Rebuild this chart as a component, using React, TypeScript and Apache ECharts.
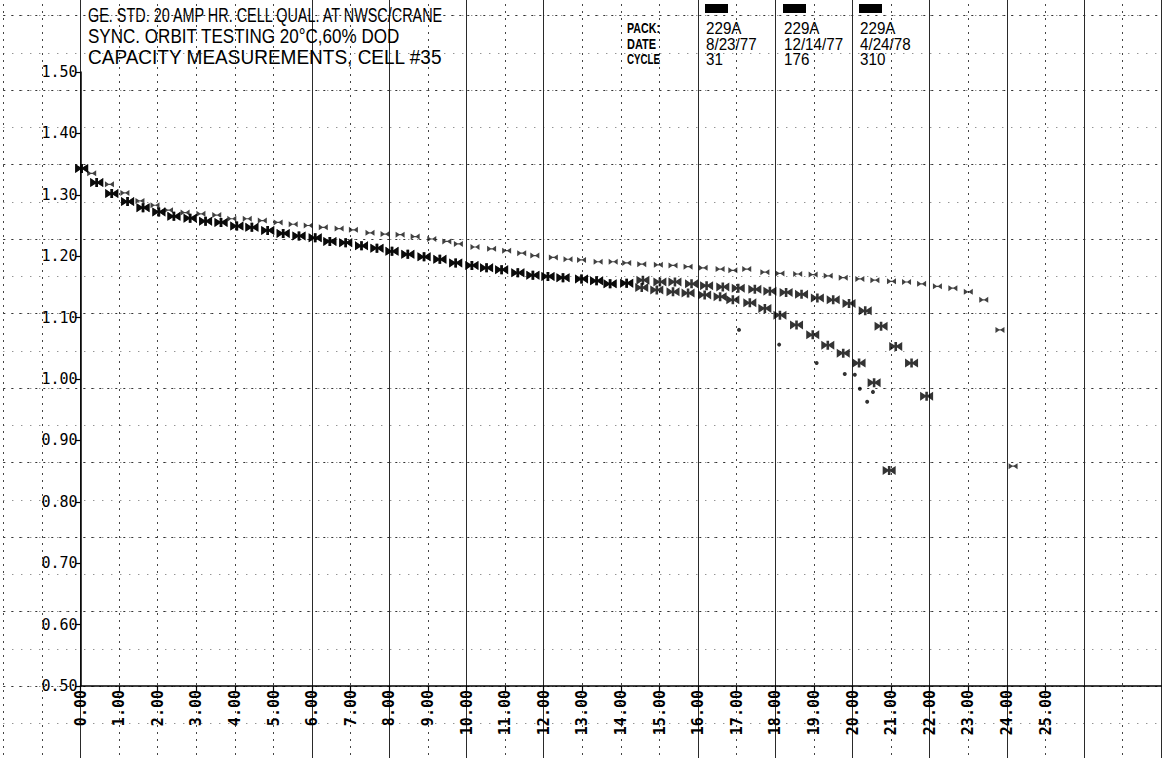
import React, { useEffect, useRef } from "react";
import * as echarts from "echarts";

// ---------- text content ----------
const titleLines = [
  "GE. STD. 20 AMP HR. CELL QUAL. AT NWSC/CRANE",
  "SYNC. ORBIT TESTING 20°C,60% DOD",
  "CAPACITY MEASUREMENTS, CELL #35",
];
const legendRowLabels = ["PACK:", "DATE", "CYCLE"];
const packs = ["229A", "229A", "229A"];
const dates = ["8/23/77", "12/14/77", "4/24/78"];
const cycles = ["31", "176", "310"];

// ---------- axes ----------
const xTickValues = [0, 1, 2, 3, 4, 5, 6, 7, 8, 9, 10, 11, 12, 13, 14, 15, 16, 17, 18, 19, 20, 21, 22, 23, 24, 25];
const yMin = 0.5;
const yMax = 1.5;
const yStep = 0.1;

// ---------- data ----------
// cycle 31 (light marks)
const cycle31X = [0.29, 0.75, 1.15, 1.54, 1.93, 2.28, 2.71, 3.12, 3.53, 3.92, 4.32, 4.71, 5.12, 5.51, 5.9, 6.29, 6.7, 7.07, 7.5, 7.89, 8.28, 8.67, 9.1, 9.49, 9.79, 10.22, 10.65, 11.04, 11.43, 11.77, 12.25, 12.63, 12.98, 13.41, 13.8, 14.15, 14.54, 14.97, 15.35, 15.74, 16.13, 16.57, 16.9, 17.26, 17.73, 18.12, 18.58, 18.98, 19.37, 19.76, 20.19, 20.58, 21.01, 21.4, 21.79, 22.2, 22.6, 23.0, 23.4, 23.82, 24.16];
const cycle31Y = [1.335, 1.317, 1.303, 1.29, 1.283, 1.275, 1.271, 1.269, 1.267, 1.261, 1.261, 1.258, 1.255, 1.252, 1.25, 1.247, 1.245, 1.243, 1.238, 1.236, 1.235, 1.232, 1.228, 1.224, 1.22, 1.215, 1.212, 1.209, 1.205, 1.201, 1.198, 1.195, 1.194, 1.191, 1.191, 1.189, 1.187, 1.186, 1.185, 1.183, 1.181, 1.179, 1.177, 1.179, 1.174, 1.172, 1.171, 1.17, 1.168, 1.165, 1.163, 1.161, 1.159, 1.158, 1.155, 1.151, 1.148, 1.142, 1.129, 1.08, 0.858];

// cycle 176 (bold marks, middle row)
const cycle176X = [0.03, 0.42, 0.81, 1.22, 1.62, 2.03, 2.42, 2.84, 3.24, 3.64, 4.05, 4.44, 4.85, 5.25, 5.66, 6.08, 6.46, 6.87, 7.28, 7.68, 8.07, 8.48, 8.9, 9.31, 9.72, 10.14, 10.52, 10.91, 11.33, 11.72, 12.11, 12.5, 12.98, 13.37, 13.72, 14.15, 14.57, 15.01, 15.4, 15.83, 16.22, 16.64, 17.04, 17.47, 17.86, 18.28, 18.68, 19.09, 19.5, 19.91, 20.33, 20.74, 21.12, 21.53, 21.92];
const cycle176Y = [1.343, 1.32, 1.302, 1.289, 1.279, 1.272, 1.265, 1.262, 1.257, 1.255, 1.249, 1.247, 1.242, 1.237, 1.233, 1.23, 1.224, 1.222, 1.217, 1.213, 1.208, 1.203, 1.199, 1.195, 1.189, 1.185, 1.181, 1.178, 1.173, 1.169, 1.167, 1.165, 1.163, 1.16, 1.155, 1.156, 1.161, 1.158, 1.158, 1.155, 1.152, 1.15, 1.148, 1.146, 1.143, 1.141, 1.138, 1.132, 1.129, 1.123, 1.111, 1.086, 1.053, 1.026, 0.972];

// cycle 310 (bold marks, lower row)
const cycle310X = [0.03, 0.42, 0.81, 1.22, 1.62, 2.03, 2.42, 2.84, 3.24, 3.64, 4.05, 4.44, 4.85, 5.25, 5.66, 6.08, 6.46, 6.87, 7.28, 7.68, 8.07, 8.48, 8.9, 9.31, 9.72, 10.14, 10.52, 10.91, 11.33, 11.72, 12.11, 12.5, 12.98, 13.37, 13.72, 14.15, 14.54, 14.93, 15.35, 15.74, 16.17, 16.57, 16.9, 17.34, 17.73, 18.12, 18.55, 18.97, 19.36, 19.76, 20.17, 20.56, 20.95];
const cycle310Y = [1.343, 1.32, 1.302, 1.289, 1.279, 1.272, 1.265, 1.262, 1.257, 1.255, 1.249, 1.247, 1.242, 1.237, 1.233, 1.23, 1.224, 1.222, 1.217, 1.213, 1.208, 1.203, 1.199, 1.195, 1.189, 1.185, 1.181, 1.178, 1.173, 1.169, 1.167, 1.165, 1.163, 1.16, 1.155, 1.156, 1.149, 1.145, 1.142, 1.14, 1.137, 1.134, 1.129, 1.124, 1.115, 1.104, 1.088, 1.072, 1.055, 1.042, 1.026, 0.994, 0.851];

// scattered small dots
const dotsX = [17.06, 18.1, 19.07, 19.8, 20.06, 20.19, 20.38, 20.53];
const dotsY = [1.08, 1.056, 1.026, 1.008, 1.007, 0.984, 0.963, 0.979];

// ---------- symbols ----------
const BOLD_SYMBOL = "path://M0,0 L4,3 L4,0 L6,0 L6,3 L10,0 L10,8 L6,5 L6,8 L4,8 L4,5 L0,8 Z";
const LIGHT_SYMBOL = "path://M0,0 L4,2 L6,2 L10,0 L10,5 L6,3 L4,3 L0,5 Z";

function zip(xs: number[], ys: number[]) {
  return xs.map((x, i) => [x, ys[i]]);
}

export default function App() {
  const ref = useRef<HTMLDivElement>(null);

  useEffect(() => {
    const el = ref.current;
    if (!el) return;
    const chart = echarts.init(el, null, { renderer: "svg" });

    // layout
    const X0 = 80.5;
    const UX = 38.6;
    const YB = 686;
    const YT = 72;
    const PY = 37.25;

    const ctx = document.createElement("canvas").getContext("2d");
    const measure = (text: string, size: number, weight = "normal") => {
      if (!ctx) return 1;
      ctx.font = `${weight} ${size}px "Liberation Sans"`;
      return ctx.measureText(text).width || 1;
    };

    const titleSpec = [
      { y: 15, size: 20, w: 357 },
      { y: 36, size: 20, w: 312 },
      { y: 57, size: 21, w: 355 },
    ];
    const titleEls = titleLines.map((t, i) => ({
      type: "text",
      x: 88,
      y: titleSpec[i].y,
      scaleX: titleSpec[i].w / measure(t, titleSpec[i].size),
      z: 10,
      style: {
        text: t,
        fontFamily: "Liberation Sans",
        fontSize: titleSpec[i].size,
        fill: "#000",
        align: "left",
        verticalAlign: "middle",
        textAlign: "left",
        textVerticalAlign: "middle",
      },
    }));

    const rowY = [28, 44, 59];
    const colX = [706, 784, 860];
    const labelW = [33, 29, 33];
    const legendEls: any[] = [];
    legendRowLabels.forEach((t, i) => {
      legendEls.push({
        type: "text",
        x: 627,
        y: rowY[i],
        scaleX: labelW[i] / measure(t, 15, "bold"),
        z: 10,
        style: { text: t, fontFamily: "Liberation Sans", fontSize: 15, fontWeight: "bold", fill: "#000", align: "left", verticalAlign: "middle", textAlign: "left", textVerticalAlign: "middle" },
      });
    });
    const cols = [packs, dates, cycles];
    colX.forEach((cx, c) => {
      legendEls.push({ type: "rect", z: 10, shape: { x: cx - 1, y: 4, width: 23, height: 9 }, style: { fill: "#000" } });
      cols.forEach((arr, r) => {
        legendEls.push({
          type: "text",
          x: cx,
          y: rowY[r],
          scaleX: 0.95,
          z: 10,
          style: { text: arr[c], fontFamily: "Liberation Sans", fontSize: 16, fill: "#000", align: "left", verticalAlign: "middle", textAlign: "left", textVerticalAlign: "middle" },
        });
      });
    });

    const T = "rgba(0,0,0,0)";
    const D = "#2a2a2a";
    // major vertical lines at -2,0,2,...,28
    const majorColors = [T, D, T, T, D, D, D, D, T, D, D, D, D, D, D, D];

    const option: any = {
      animation: false,
      backgroundColor: "#fff",
      grid: [
        { left: X0, top: YT, width: UX * 28, height: YB - YT, outerBoundsMode: "none" },
        { left: X0 - 2 * UX, top: YB - 20 * PY, width: 30 * UX, height: 22 * PY, outerBoundsMode: "none" },
      ],
      xAxis: [
        {
          gridIndex: 0,
          type: "value",
          min: 0,
          max: 28,
          position: "bottom",
          axisLine: { show: true, onZero: false, lineStyle: { color: "#000", width: 1.5 } },
          axisTick: { show: true, customValues: xTickValues, length: 5, lineStyle: { color: "#000", width: 1.2 } },
          axisLabel: {
            customValues: xTickValues,
            rotate: 90,
            margin: 4,
            formatter: (v: number) => v.toFixed(2),
            fontFamily: "DejaVu Sans Mono",
            fontSize: 15,
            fontWeight: "bold",
            color: "#000",
          },
          splitLine: { show: false },
        },
        {
          gridIndex: 1,
          type: "value",
          min: -2,
          max: 28,
          interval: 1,
          position: "bottom",
          axisLine: { show: false },
          axisTick: { show: false },
          axisLabel: { show: false },
          splitLine: { show: true, lineStyle: { color: "#444", width: 1, type: [2, 5] } },
        },
        {
          gridIndex: 1,
          type: "value",
          min: -2,
          max: 28,
          interval: 2,
          position: "top",
          axisLine: { show: false },
          axisTick: { show: false },
          axisLabel: { show: false },
          splitLine: { show: true, lineStyle: { color: majorColors, width: 1, type: "solid" } },
        },
      ],
      yAxis: [
        {
          gridIndex: 0,
          type: "value",
          min: yMin,
          max: yMax,
          interval: yStep,
          axisLine: { show: true, lineStyle: { color: "#000", width: 1.5 } },
          axisTick: { show: true, length: 5, lineStyle: { color: "#000", width: 1.2 } },
          axisLabel: {
            margin: 3,
            formatter: (v: number) => v.toFixed(2),
            fontFamily: "DejaVu Sans Mono",
            fontSize: 15,
            color: "#000",
          },
          splitLine: { show: false },
        },
        {
          gridIndex: 1,
          type: "value",
          min: -2,
          max: 20,
          interval: 1,
          position: "left",
          axisLine: { show: false },
          axisTick: { show: false },
          axisLabel: { show: false },
          splitLine: { show: true, lineStyle: { color: "#666", width: 1, type: [1, 8] } },
        },
        {
          gridIndex: 1,
          type: "value",
          min: -2,
          max: 20,
          interval: 2,
          position: "right",
          axisLine: { show: false },
          axisTick: { show: false },
          axisLabel: { show: false },
          splitLine: { show: true, lineStyle: { color: "#333", width: 1, type: [2, 6] } },
        },
      ],
      series: [
        {
          name: "Cycle 31",
          type: "scatter",
          xAxisIndex: 0,
          yAxisIndex: 0,
          symbol: LIGHT_SYMBOL,
          symbolSize: [9, 6],
          itemStyle: { color: "#111" },
          data: zip(cycle31X, cycle31Y),
          z: 5,
        },
        {
          name: "Cycle 176",
          type: "scatter",
          xAxisIndex: 0,
          yAxisIndex: 0,
          symbol: BOLD_SYMBOL,
          symbolSize: [13, 9],
          itemStyle: { color: "#000" },
          data: zip(cycle176X, cycle176Y),
          z: 5,
        },
        {
          name: "Cycle 310",
          type: "scatter",
          xAxisIndex: 0,
          yAxisIndex: 0,
          symbol: BOLD_SYMBOL,
          symbolSize: [13, 9],
          itemStyle: { color: "#000" },
          data: zip(cycle310X, cycle310Y),
          z: 5,
        },
        {
          name: "Points",
          type: "scatter",
          xAxisIndex: 0,
          yAxisIndex: 0,
          symbol: "circle",
          symbolSize: 4,
          itemStyle: { color: "#000" },
          data: zip(dotsX, dotsY),
          z: 5,
        },
      ],
      graphic: [...titleEls, ...legendEls],
    };

    chart.setOption(option);
    return () => {
      chart.dispose();
    };
  }, []);

  return (
    <div
      ref={ref}
      style={{ position: "fixed", left: 0, top: 0, width: 1167, height: 758, background: "#fff" }}
    />
  );
}
